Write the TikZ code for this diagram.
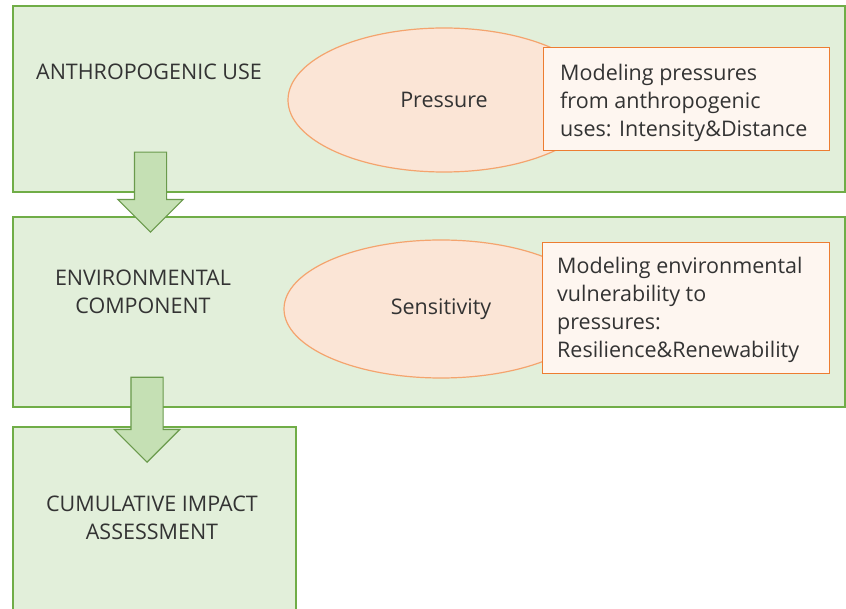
\documentclass[tikz,border=0pt]{standalone}
\usepackage{fontspec}
\setmainfont{Open Sans}
\usetikzlibrary{shapes,positioning}
\definecolor{boxfill}{HTML}{E2EFDA}
\definecolor{boxline}{HTML}{70AD47}
\definecolor{arrfill}{HTML}{C5E0B4}
\definecolor{arrline}{HTML}{6A9A4C}
\definecolor{ellfill}{HTML}{FBE5D6}
\definecolor{ellline}{HTML}{F4A46E}
\definecolor{notefill}{HTML}{FEF6F0}
\definecolor{noteline}{HTML}{ED7D31}
\definecolor{txt}{HTML}{333333}
\begin{document}
\begin{tikzpicture}[x=1pt,y=-1pt]
			\tikzstyle{every node}=[font=\fontsize{21.5}{27.7}\selectfont, text=txt]
			\tikzstyle{level}=[rectangle, draw=boxline, fill=boxfill, line width=1.2pt, inner sep=0pt]
			\tikzstyle{factor}=[ellipse, draw=ellline, fill=ellfill, line width=1.2pt, inner sep=0pt]
			\tikzstyle{note}=[rectangle, draw=noteline, fill=notefill, line width=1.2pt, align=left, anchor=north west, inner sep=0pt]
			\tikzstyle{flow}=[single arrow, draw=arrline, fill=arrfill, line width=1.2pt, inner xsep=0pt, inner ysep=15.5pt, minimum width=64pt, single arrow head extend=16.5pt, single arrow head indent=0pt, minimum height=80pt, rotate=-90, anchor=tip]
			\useasboundingbox (0,0) rectangle (846,609);
			% levels
			\node [level, minimum width=832pt, minimum height=186pt] (use) at (429,99) {};
			\node [level, minimum width=832pt, minimum height=190pt] (comp) at (429,312) {};
			\node at (149,72) (uselabel) {ANTHROPOGENIC USE};
			\node [align=center] at (143,292) (complabel) {ENVIRONMENTAL\\COMPONENT};
			% factors
			\node [factor, minimum width=312pt, minimum height=144pt] (press) at (444,100) {Pressure};
			\node [factor, minimum width=314pt, minimum height=138pt] (sens) at (441,309) {Sensitivity};
			\node [note, minimum width=286pt, minimum height=103pt] (pressbox) at (543,47) {};
			\node [anchor=north west, align=left, inner sep=0pt] (presstext) at (560,64.4) {Modeling pressures\\from anthropogenic\\uses: Intensity\&Distance};
			\node [note, minimum width=287pt, minimum height=131pt] (sensbox) at (542,242) {};
			\node [anchor=north west, align=left, inner sep=0pt] (senstext) at (557,257.4) {Modeling environmental\\vulnerability to\\pressures:\\Resilience\&Renewability};
			% assessment
			\node [level, minimum width=283pt, minimum height=188pt] (cia) at (154.5,521) {};
			\node [align=center] at (152,517.5) (cialabel) {CUMULATIVE IMPACT\\ASSESSMENT};
			% arrows
			\node [flow] (flowa) at (150.5,233) {};
			\node [flow, minimum height=85pt] (flowb) at (147,463) {};
\end{tikzpicture}
\end{document}
